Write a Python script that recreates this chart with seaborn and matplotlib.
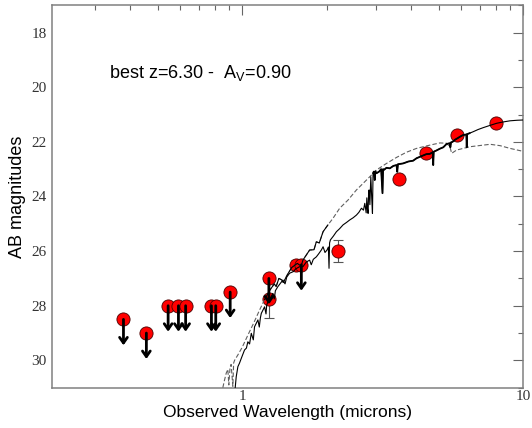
import matplotlib
matplotlib.use("Agg")
import numpy as np
import pandas as pd
import matplotlib.pyplot as plt
from matplotlib.ticker import FixedLocator, LogLocator, MultipleLocator, NullFormatter
import seaborn as sns

# Observed photometry (microns, AB mag); limit = 1 marks an upper limit
band_wl = [0.378, 0.456, 0.545, 0.593, 0.629, 0.777, 0.805, 0.906,
           1.244, 1.244, 1.557, 1.623, 2.19, 3.60, 4.50, 5.79, 7.97]
band_mag = [28.50, 29.00, 28.00, 28.00, 28.00, 28.00, 28.00, 27.50,
            27.00, 27.75, 26.50, 26.50, 26.00, 23.37, 22.42, 21.75, 21.31]
band_err = [0, 0, 0, 0, 0, 0, 0, 0,
            0, 0.70, 0.18, 0, 0.40, 0, 0, 0, 0]
band_limit = [1, 1, 1, 1, 1, 1, 1, 1,
              1, 0, 0, 1, 0, 0, 0, 0, 0]

# Best-fit template, z = 6.30
best_wl = [0.944, 0.952, 0.965, 0.978, 0.992, 1.019, 1.035, 1.047, 1.062, 1.077,
           1.095, 1.106, 1.137, 1.150, 1.160, 1.169, 1.201, 1.215, 1.222, 1.241,
           1.262, 1.285, 1.300, 1.312, 1.339, 1.395, 1.420, 1.440, 1.474, 1.520,
           1.550, 1.600, 1.644, 1.690, 1.737, 1.760, 1.790, 1.835, 1.870, 1.912,
           1.939, 1.970, 2.003, 2.025, 2.036, 2.045, 2.059, 2.110, 2.163, 2.220,
           2.284, 2.350, 2.412, 2.480, 2.549, 2.600, 2.655, 2.700, 2.729, 2.760,
           2.775, 2.790, 2.804, 2.815, 2.827, 2.845, 2.867, 2.890, 2.906, 2.920,
           2.938, 2.960, 2.975, 3.003, 3.068, 3.120, 3.155, 3.170, 3.189, 3.260,
           3.350, 3.450, 3.540, 3.560, 3.580, 3.736, 3.900, 4.055, 4.170, 4.350,
           4.520, 4.650, 4.760, 4.780, 4.800, 4.900, 5.050, 5.190, 5.330, 5.470,
           5.500, 5.530, 5.600, 5.720, 5.850, 5.980, 6.110, 6.270, 6.290, 6.310,
           6.450, 6.630, 6.900, 7.200, 7.600, 8.040, 8.500, 8.970, 9.500, 10.00]
best_mag = [31.00, 30.60, 30.23, 30.10, 29.93, 29.62, 29.55, 29.32, 29.40, 29.01,
            29.25, 28.77, 28.52, 28.78, 28.45, 28.28, 28.04, 28.30, 27.98, 27.79,
            27.70, 27.55, 27.75, 27.45, 27.30, 27.06, 27.20, 26.95, 26.81, 26.75,
            26.65, 26.57, 26.57, 26.40, 26.33, 26.50, 26.30, 26.21, 26.10, 25.96,
            25.84, 26.05, 25.96, 25.85, 26.63, 25.70, 25.59, 25.45, 25.29, 25.18,
            25.04, 24.95, 24.86, 24.78, 24.68, 24.58, 24.43, 24.50, 24.25, 24.60,
            24.05, 24.45, 24.62, 23.90, 23.76, 24.30, 23.28, 24.10, 24.62, 23.15,
            23.09, 23.40, 23.08, 23.15, 23.09, 23.00, 23.88, 23.00, 23.03, 22.95,
            22.97, 22.88, 22.85, 23.10, 22.82, 22.79, 22.72, 22.69, 22.60, 22.52,
            22.45, 22.44, 22.38, 22.85, 22.36, 22.32, 22.25, 22.20, 22.08, 22.05,
            22.20, 22.02, 22.00, 21.92, 21.86, 21.80, 21.75, 21.73, 22.20, 21.72,
            21.68, 21.63, 21.55, 21.48, 21.40, 21.32, 21.27, 21.23, 21.21, 21.20]

# Secondary solution
alt_wl = [0.853, 0.865, 0.877, 0.889, 0.896, 0.905, 0.913, 0.926, 0.932, 0.939,
          0.965, 1.000, 1.050, 1.100, 1.150, 1.200, 1.250, 1.300, 1.320, 1.350,
          1.380, 1.400, 1.450, 1.500, 1.570, 1.620, 1.644, 1.737, 1.800, 1.835,
          1.880, 1.939, 2.018, 2.103, 2.222, 2.379, 2.549, 2.766, 3.003, 3.261,
          3.540, 3.840, 4.170, 4.650, 5.050, 5.330, 5.480, 5.560, 5.790, 5.950,
          6.450, 7.200, 7.620, 8.270, 8.970, 10.00]
alt_mag = [31.00, 30.72, 30.47, 30.33, 30.90, 30.25, 30.15, 30.95, 30.10, 30.00,
           29.80, 29.52, 29.05, 28.62, 28.18, 27.78, 27.45, 27.20, 27.30, 27.00,
           27.05, 27.15, 26.85, 26.60, 26.45, 26.55, 26.33, 25.96, 25.95, 25.66,
           25.70, 25.29, 25.04, 24.80, 24.43, 24.13, 23.76, 23.40, 23.03, 22.79,
           22.57, 22.38, 22.24, 22.12, 22.04, 22.05, 22.18, 22.42, 22.30, 22.27,
           22.18, 22.12, 22.09, 22.14, 22.24, 22.35]

ARROW_LEN = 0.95  # length of the upper-limit arrows, in mag

sns.set_style("white")
plt.rcParams["font.family"] = ["Liberation Sans", "DejaVu Sans"]
plt.rcParams["mathtext.default"] = "regular"
plt.rcParams["text.color"] = "black"
plt.rcParams["axes.labelcolor"] = "black"

phot = pd.DataFrame({"wl": band_wl, "mag": band_mag, "err": band_err, "limit": band_limit})
best = pd.DataFrame({"wl": best_wl, "mag": best_mag})
alt = pd.DataFrame({"wl": alt_wl, "mag": alt_mag})

fig = plt.figure(figsize=(5.32, 4.28), dpi=100)
ax = fig.add_axes([0.0972, 0.0942, 0.8865, 0.8935])
ax.set_xscale("log")

# photometric points sit under the model curves
sns.scatterplot(data=phot, x="wl", y="mag", s=90, color="#ff0000",
                edgecolor="#4a0000", linewidth=0.6, zorder=2, ax=ax, legend=False)
eb = phot[phot["err"] > 0]
ax.errorbar(eb["wl"], eb["mag"], yerr=eb["err"], fmt="none", ecolor="#555555",
            elinewidth=0.8, capsize=3.5, capthick=0.8, zorder=1.5)

# secondary solution: dashed, with the jagged near-IR part solid
sns.lineplot(data=alt, x="wl", y="mag", sort=False, estimator=None, color="#606060",
             linewidth=0.8, linestyle=(0, (4, 2)), zorder=3, ax=ax)
seg = alt[(alt["wl"] >= 1.2) & (alt["wl"] <= 2.02)]
sns.lineplot(data=seg, x="wl", y="mag", sort=False, estimator=None, color="black",
             linewidth=0.8, zorder=3, ax=ax)

# best-fit template; the dense-feature region drawn a little heavier
sns.lineplot(data=best, x="wl", y="mag", sort=False, estimator=None, color="black",
             linewidth=0.8, zorder=3, ax=ax)
dense = best[(best["wl"] >= 2.92) & (best["wl"] <= 6.6)]
sns.lineplot(data=dense, x="wl", y="mag", sort=False, estimator=None, color="black",
             linewidth=1.3, zorder=3, ax=ax)

# upper limits
for _, r in phot[phot["limit"] == 1].iterrows():
    ax.annotate("", xy=(r["wl"], r["mag"] + ARROW_LEN), xytext=(r["wl"], r["mag"]),
                arrowprops=dict(arrowstyle="->,head_length=0.4,head_width=0.28",
                                lw=2.0, color="black", shrinkA=0, shrinkB=0),
                zorder=4)

ax.set_xlim(0.21, 10)
ax.set_ylim(31, 17)
ax.xaxis.set_major_locator(FixedLocator([1, 10]))
ax.set_xticks([1, 10], labels=["1", "10"])
ax.xaxis.set_minor_locator(LogLocator(base=10, subs=np.arange(2, 10)))
ax.xaxis.set_minor_formatter(NullFormatter())
ax.set_yticks(np.arange(18, 31, 2))
ax.yaxis.set_minor_locator(MultipleLocator(1))

ax.tick_params(which="both", direction="in", top=True, right=True,
               color="#666666", width=0.8, labelcolor="#333333", labelsize=11)
ax.tick_params(which="major", length=7)
ax.tick_params(which="minor", length=3.6)
ax.tick_params(axis="x", pad=2)
ax.tick_params(axis="y", pad=3.5)
for lab in ax.get_xticklabels() + ax.get_yticklabels():
    lab.set_fontfamily("Liberation Serif")

for sp in ax.spines.values():
    sp.set_color("#808080")
    sp.set_linewidth(1.1)

ax.set_xlabel("Observed Wavelength (microns)", fontsize=12.5, labelpad=1)
ax.set_ylabel("AB magnitudes", fontsize=13, labelpad=4)

ax.text(0.1215, 0.81, "best z=6.30 -  A$_V$=0.90", transform=ax.transAxes,
        fontsize=13, va="baseline", ha="left", color="black")

fig.savefig("out.png", dpi=100)
